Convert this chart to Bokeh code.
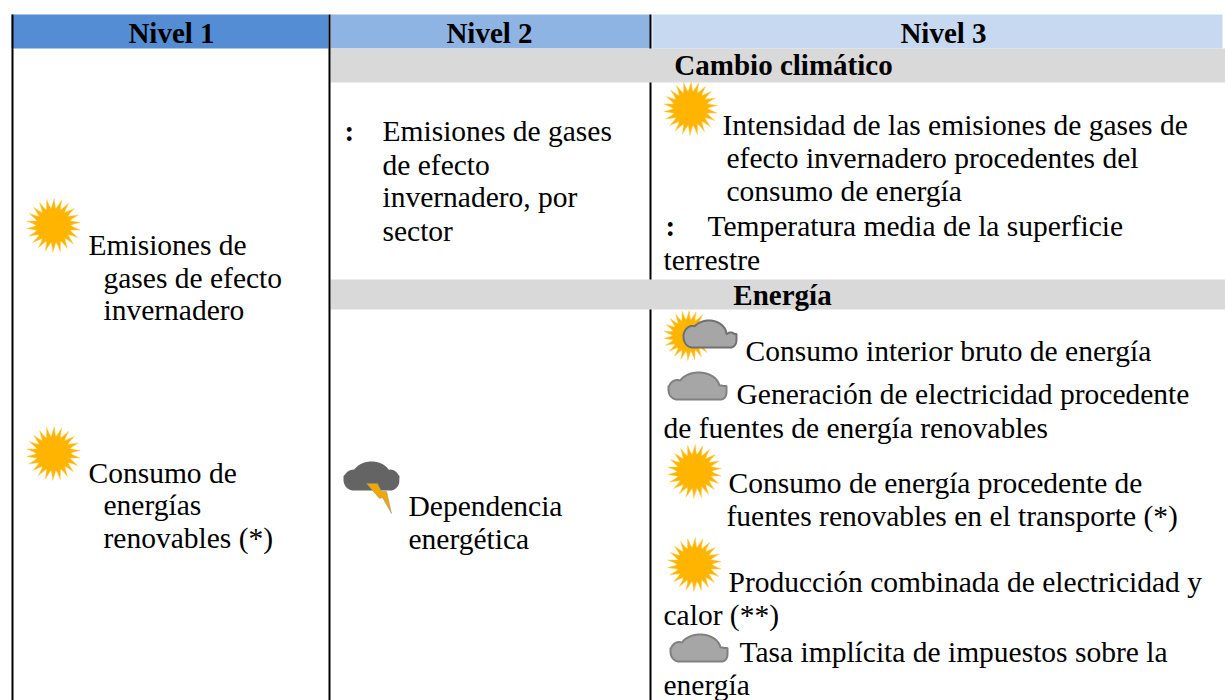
import numpy as np
from bokeh.plotting import figure
from bokeh.models import Range1d
from bokeh.core.properties import value
from bokeh.embed import file_html
from bokeh.resources import INLINE

# ---- table content ----
headers = ["Nivel 1", "Nivel 2", "Nivel 3"]
sections = ["Cambio climático", "Energía"]
nivel1_text = ["Emisiones de", "gases de efecto", "invernadero",
               "Consumo de", "energías", "renovables (*)"]
nivel2_text = [":", "Emisiones de gases", "de efecto", "invernadero, por", "sector",
               "Dependencia", "energética"]
nivel3_text = ["Intensidad de las emisiones de gases de",
               "efecto invernadero procedentes del",
               "consumo de energía",
               ":", "Temperatura media de la superficie",
               "terrestre",
               "Consumo interior bruto de energía",
               "Generación de electricidad procedente",
               "de fuentes de energía renovables",
               "Consumo de energía procedente de",
               "fuentes renovables en el transporte (*)",
               "Producción combinada de electricidad y",
               "calor (**)",
               "Tasa implícita de impuestos sobre la",
               "energía"]

# ---- layout (page pixels) ----
W, H = 1225, 700
FONT = value("Liberation Serif")
SIZE = "29.5px"
BOLD_SIZE = "29px"

p = figure(width=W, height=H, x_range=Range1d(0, W), y_range=Range1d(H, 0),
           output_backend="svg", toolbar_location=None, min_border=0,
           outline_line_color=None, background_fill_color="white", border_fill_color="white")
p.xaxis.visible = False
p.yaxis.visible = False
p.grid.visible = False

# header + section bands
p.quad(left=[11, 330, 652], right=[328, 650, 1222], top=[14, 14, 14], bottom=[48, 48, 48],
       fill_color=["#548DD4", "#8EB4E3", "#C6D9F1"], line_color=None)
p.quad(left=[330, 330], right=[1225, 1225], top=[48, 279], bottom=[82, 309],
       fill_color="#D9D9D9", line_color=None)
# rules
p.segment(x0=[12, 329, 650, 650, 650], x1=[12, 329, 650, 650, 650],
          y0=[14, 14, 14, 82, 309], y1=[700, 700, 48, 279, 700],
          line_color="black", line_width=2)


def sun(cx, cy, r=27.0):
    n = 22
    t = 2 * np.pi / n
    k = np.arange(n)
    ang = np.column_stack([k * t, (k + .25) * t, (k + .6) * t, (k + .78) * t]).ravel()
    rad = np.tile([r * .64, r * .74, r, r * .74], n)
    p.patch(cx + rad * np.cos(ang), cy + rad * np.sin(ang),
            fill_color="#FFB400", line_color="#FFD060", line_width=0.5)


def cloud(x0, x1, ytop, ybot, lobes, fill, line):
    w, h = x1 - x0, ybot - ytop
    xs = np.linspace(0, 1, 200)
    top = np.full_like(xs, 0.5)
    bot = np.full_like(xs, 0.5)
    for (cx, cy, rx, ry) in lobes:
        s = np.sqrt(np.clip(1 - ((xs - cx) / rx) ** 2, 0, 1))
        inside = np.abs(xs - cx) <= rx
        top = np.where(inside, np.minimum(top, cy - ry * s), top)
        bot = np.where(inside, np.maximum(bot, cy + ry * s), bot)
    bot = np.where((xs >= lobes[0][0]) & (xs <= lobes[-1][0]), 1, np.minimum(bot, 1))
    bx = np.concatenate([xs, xs[::-1]])
    by = np.concatenate([top, bot[::-1]])
    p.patch(x0 + bx * w, ytop + by * h, fill_color=fill, line_color=line, line_width=2)


L_SMALL = [(0.15, 0.64, 0.15, 0.36), (0.52, 0.56, 0.36, 0.56), (0.90, 0.74, 0.10, 0.26)]
L_SUN = [(0.17, 0.60, 0.17, 0.40), (0.48, 0.52, 0.33, 0.52), (0.89, 0.72, 0.11, 0.28)]
L_STORM = [(0.17, 0.65, 0.17, 0.35), (0.50, 0.52, 0.34, 0.52), (0.85, 0.65, 0.15, 0.35)]

for c in [(53, 225), (53, 453), (690, 108), (694, 471), (694, 564)]:
    sun(*c)
sun(688, 335, 25)
cloud(683, 736, 320, 347, L_SUN, "#A6A6A6", "#707070")
cloud(668, 726, 372, 399, L_SMALL, "#A6A6A6", "#808080")
cloud(670, 727, 634, 661, L_SMALL, "#A6A6A6", "#808080")
cloud(344, 398, 462, 489, L_STORM, "#646464", "#646464")
p.patch([366, 377, 381, 386, 391, 382, 379], [483, 483, 491, 491, 513, 497, 498],
        fill_color="#F0A800", line_color="#8C8C8C", line_width=0.5)


def put(texts, xs, ys, bold=False, align="left"):
    p.text(x=xs, y=ys, text=texts, text_font=FONT, text_font_size=BOLD_SIZE if bold else SIZE,
           text_font_style="bold" if bold else "normal",
           text_baseline="middle", text_align=align, text_color="black")


put(headers, [171, 489, 943], [32, 32, 32], True, "center")
put(sections, [783, 782], [64, 294], True, "center")
put(nivel1_text, [88, 103, 103, 88, 103, 103], [244, 277, 309, 472, 504, 537])
put(nivel2_text[:1], [344], [130], True)
put(nivel2_text[1:], [382, 382, 382, 382, 408, 408], [130, 164, 196, 230, 505, 538])
put(nivel3_text[:3], [722, 726, 726], [124, 157, 190])
put(nivel3_text[3:4], [665], [225], True)
put(nivel3_text[4:], [707, 663, 745, 736, 663, 728, 726, 728, 663, 739, 663],
    [225, 259, 350, 393, 427, 482, 515, 581, 614, 651, 684])

open("out.html", "w").write(file_html(p, INLINE))
